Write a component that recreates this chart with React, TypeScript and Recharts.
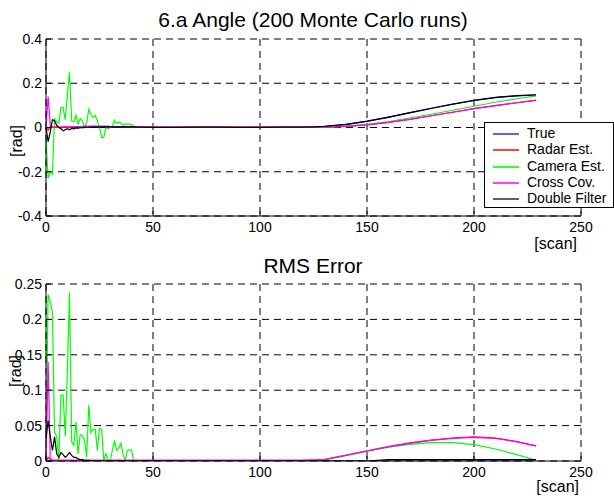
import React from 'react'
import { LineChart, Line, XAxis, YAxis, CartesianGrid } from 'recharts'

// scan index: dense at the start (noisy part), sparse afterwards
const scans = [
  0, 1, 2, 3, 4, 5, 6, 7, 8, 9, 10, 11, 12, 13, 14, 15, 16, 17, 18, 19, 20, 21,
  22, 23, 24, 25, 26, 27, 28, 29, 30, 31, 32, 33, 34, 35, 36, 37, 38, 39, 40, 41,
  42, 45, 50, 60, 70, 80, 90, 100, 110, 120, 125, 130, 140, 150, 160, 170, 180,
  190, 200, 210, 220, 229,
]

// 6.a Angle [rad]
const angleTrue = [
  0, 0, 0, 0, 0, 0, 0, 0, 0, 0, 0, 0, 0, 0, 0, 0, 0, 0, 0, 0, 0, 0, 0, 0, 0, 0,
  0, 0, 0, 0, 0, 0, 0, 0, 0, 0, 0, 0, 0, 0, 0, 0, 0,
  0, 0, 0, 0, 0, 0, 0, 0, 0.001, 0.002, 0.004, 0.013, 0.028, 0.046, 0.066, 0.086,
  0.105, 0.122, 0.135, 0.143, 0.147,
]
const angleRadar = [
  0, -0.012, 0.005, 0.003, 0.002, 0.002, 0.001, 0.001, 0.002, 0.002, 0.001, 0.002,
  0.002, 0.003, 0.003, 0.003, 0.004, 0.004, 0.004, 0.005, 0.005, 0.005, 0.005,
  0.005, 0.005, 0.005, 0.005, 0.005, 0.005, 0.005, 0.004, 0.004, 0.004, 0.004,
  0.004, 0.004, 0.004, 0.003, 0.003, 0.003, 0.003, 0.003, 0.003,
  0.002, 0.001, 0, 0, 0, 0, 0, 0, 0, 0, 0.001, 0.005, 0.012, 0.023, 0.037, 0.053,
  0.069, 0.085, 0.099, 0.112, 0.123,
]
const angleCamera = [
  -0.06, -0.23, -0.2, -0.21, 0.04, 0.025, 0.02, 0.09, 0.09, 0.035, 0.15, 0.25,
  0.03, 0.025, 0.055, 0.015, 0.04, 0.03, 0, 0.02, 0.082, 0.06, 0.045, 0.055, 0.03,
  0, -0.045, -0.045, 0, -0.005, 0, 0.005, 0.033, 0.018, 0.025, 0.02, 0.01, 0.015,
  0.015, 0.015, 0.013, 0.005, 0,
  0.002, 0.002, 0.001, 0.002, 0.002, 0.001, 0.002, 0.002, 0.001, 0.001, 0.002,
  0.006, 0.014, 0.027, 0.043, 0.06, 0.078, 0.096, 0.114, 0.13, 0.143,
]
const angleCross = [
  0, 0.14, 0.01, 0, 0.002, 0.002, 0.002, 0.002, 0.003, 0.003, 0.003, 0.003, 0.003,
  0.004, 0.004, 0.004, 0.004, 0.005, 0.005, 0.005, 0.005, 0.005, 0.005, 0.005,
  0.005, 0.005, 0.005, 0.005, 0.005, 0.005, 0.004, 0.004, 0.004, 0.004, 0.004,
  0.004, 0.004, 0.004, 0.003, 0.003, 0.003, 0.003, 0.003,
  0.003, 0.003, 0.003, 0.003, 0.003, 0.003, 0.003, 0.003, 0.003, 0.002, 0.002,
  0.005, 0.012, 0.023, 0.037, 0.053, 0.069, 0.085, 0.099, 0.112, 0.124,
]
const angleDouble = [
  0, -0.064, -0.02, 0.035, 0.03, 0.01, 0, -0.005, -0.015, -0.01, -0.005, -0.01,
  -0.004, -0.006, -0.002, -0.004, 0, -0.002, 0.002, 0, 0.001, 0.002, 0.002, 0.003,
  0.002, 0.003, 0.003, 0.003, 0.003, 0.003, 0.003, 0.003, 0.003, 0.003, 0.003,
  0.003, 0.003, 0.003, 0.003, 0.003, 0.003, 0.003, 0.002,
  0.002, 0.001, 0.001, 0.002, 0.002, 0.001, 0.001, 0.002, 0.002, 0.003, 0.005,
  0.014, 0.029, 0.047, 0.067, 0.087, 0.106, 0.123, 0.136, 0.144, 0.148,
]

// RMS Error [rad]
const rmsTrue = [
  0, 0, 0, 0, 0, 0, 0, 0, 0, 0, 0, 0, 0, 0, 0, 0, 0, 0, 0, 0, 0, 0, 0, 0, 0, 0,
  0, 0, 0, 0, 0, 0, 0, 0, 0, 0, 0, 0, 0, 0, 0, 0, 0,
  0, 0, 0, 0, 0, 0, 0, 0, 0, 0, 0, 0, 0, 0, 0, 0, 0, 0, 0, 0, 0,
]
const rmsRadar = [
  0, 0.005, 0.003, 0.001, 0.001, 0.001, 0.001, 0.001, 0.001, 0.001, 0.001, 0.001,
  0.001, 0.001, 0.001, 0.001, 0.001, 0.001, 0.001, 0.001, 0.001, 0.001, 0.001,
  0.001, 0.001, 0.001, 0.001, 0.001, 0.001, 0.001, 0.001, 0.001, 0.001, 0.001,
  0.001, 0.001, 0.001, 0.001, 0.001, 0.001, 0.001, 0.001, 0.001,
  0.001, 0.001, 0.001, 0.001, 0.001, 0.001, 0.001, 0.001, 0.001, 0.001, 0.002,
  0.008, 0.0145, 0.0205, 0.0255, 0.0295, 0.0325, 0.034, 0.0325, 0.0275, 0.0215,
]
const rmsCamera = [
  0.02, 0.235, 0.225, 0.21, 0.04, 0.035, 0.002, 0.093, 0.093, 0.035, 0.13, 0.238,
  0.027, 0.022, 0.055, 0.01, 0.037, 0.036, 0.03, 0.005, 0.079, 0.04, 0.045, 0.045,
  0.015, 0.046, 0.045, 0, 0.01, 0.002, 0, 0.015, 0.029, 0.015, 0.018, 0.025, 0.01,
  0, 0.015, 0.016, 0.015, 0, 0,
  0, 0, 0, 0, 0, 0, 0, 0, 0, 0, 0.002, 0.008, 0.014, 0.0195, 0.0235, 0.026, 0.026,
  0.023, 0.017, 0.009, 0.001,
]
const rmsCross = [
  0, 0.14, 0.002, 0.001, 0.001, 0.001, 0.001, 0.001, 0.001, 0.001, 0.001, 0.001,
  0.001, 0.001, 0.001, 0.001, 0.001, 0.001, 0.001, 0.001, 0.001, 0.001, 0.001,
  0.001, 0.001, 0.001, 0.001, 0.001, 0.001, 0.001, 0.001, 0.001, 0.001, 0.001,
  0.001, 0.001, 0.001, 0.001, 0.001, 0.001, 0.001, 0.001, 0.001,
  0.001, 0.001, 0.001, 0.001, 0.001, 0.001, 0.001, 0.001, 0.001, 0.0015, 0.002,
  0.008, 0.014, 0.02, 0.025, 0.029, 0.032, 0.0335, 0.032, 0.027, 0.021,
]
const rmsDouble = [
  0.032, 0.057, 0.035, 0.015, 0.034, 0.01, 0.005, 0.012, 0.009, 0.005, 0.008,
  0.012, 0.008, 0.005, 0.005, 0.003, 0.002, 0.002, 0.001, 0.001, 0.001, 0, 0, 0,
  0, 0, 0, 0, 0, 0, 0, 0, 0, 0, 0, 0, 0, 0, 0, 0, 0, 0, 0,
  0, 0, 0, 0, 0, 0, 0, 0, 0, 0, 0, 0, 0, 0.002, 0.002, 0.002, 0.002, 0.002, 0.002,
  0.002, 0.002,
]

const scanTicks = [0, 50, 100, 150, 200, 250]
const angleTicks = [-0.4, -0.2, 0, 0.2, 0.4]
const rmsTicks = [0, 0.05, 0.1, 0.15, 0.2, 0.25]

const seriesNames = ['True', 'Radar Est.', 'Camera Est.', 'Cross Cov.', 'Double Filter']
const seriesColors = ['#0000ff', '#ff0000', '#00ff00', '#ff00ff', '#000000']
const legendColors = ['#6060ff', '#ff4040', '#30ff30', '#ff40ff', '#606060']
const seriesKeys = ['tru', 'radar', 'camera', 'cross', 'double']

const angleData = scans.map((s, i) => ({
  scan: s,
  tru: angleTrue[i],
  radar: angleRadar[i],
  camera: angleCamera[i],
  cross: angleCross[i],
  double: angleDouble[i],
}))

const rmsData = scans.map((s, i) => ({
  scan: s,
  tru: rmsTrue[i],
  radar: rmsRadar[i],
  camera: rmsCamera[i],
  cross: rmsCross[i],
  double: rmsDouble[i],
}))

const FONT = 'Arial, "Liberation Sans", sans-serif'
const tickStyle = { fontSize: 14, fill: '#000' }

function Panel({ data, yDomain, yTicks, marginTop, xHeight }: any) {
  return (
    <LineChart
      width={614}
      height={252}
      data={data}
      margin={{ top: marginTop, right: 33, bottom: 0, left: 0 }}
    >
      <CartesianGrid stroke="#000" strokeDasharray="7 5" strokeWidth={1} />
      <XAxis
        dataKey="scan"
        type="number"
        domain={[0, 250]}
        ticks={scanTicks}
        height={xHeight}
        tick={tickStyle}
        tickSize={-5}
        tickMargin={11}
        stroke="#000"
        tickLine={{ stroke: '#000' }}
      />
      <YAxis
        type="number"
        domain={yDomain}
        ticks={yTicks}
        width={46}
        tick={tickStyle}
        tickSize={-5}
        tickMargin={9}
        stroke="#000"
        tickLine={{ stroke: '#000' }}
        allowDataOverflow
      />
      {seriesKeys.map((k, i) => (
        <Line
          key={k}
          dataKey={k}
          type="linear"
          stroke={seriesColors[i]}
          strokeWidth={1.2}
          dot={false}
          isAnimationActive={false}
        />
      ))}
    </LineChart>
  )
}

const abs = (style: React.CSSProperties): React.CSSProperties => ({
  position: 'absolute',
  whiteSpace: 'nowrap',
  ...style,
})

export default function App() {
  return (
    <div
      style={{
        position: 'absolute',
        left: 0,
        top: 0,
        width: 614,
        height: 504,
        background: '#fff',
        fontFamily: FONT,
        color: '#000',
        overflow: 'hidden',
      }}
    >
      {/* top: angle */}
      <div style={abs({ left: 0, top: 0 })}>
        <Panel data={angleData} yDomain={[-0.4, 0.4]} yTicks={angleTicks} marginTop={39} xHeight={36} />
      </div>
      {/* bottom: rms error */}
      <div style={abs({ left: 0, top: 252 })}>
        <Panel data={rmsData} yDomain={[0, 0.25]} yTicks={rmsTicks} marginTop={32} xHeight={43} />
      </div>

      {/* titles and axis labels */}
      <div style={abs({ left: 113, width: 400, top: 9, textAlign: 'center', fontSize: 21, lineHeight: '21px' })}>
        6.a Angle (200 Monte Carlo runs)
      </div>
      <div style={abs({ left: 113, width: 400, top: 255, textAlign: 'center', fontSize: 21, lineHeight: '21px' })}>
        RMS Error
      </div>
      <div style={abs({ right: 37, top: 236, fontSize: 16, lineHeight: '16px' })}>[scan]</div>
      <div style={abs({ right: 35, top: 479, fontSize: 16, lineHeight: '16px' })}>[scan]</div>
      <div
        style={abs({
          left: 17,
          top: 141,
          fontSize: 16,
          lineHeight: '16px',
          transform: 'translate(-50%, -50%) rotate(-90deg)',
        })}
      >
        [rad]
      </div>
      <div
        style={abs({
          left: 16,
          top: 371,
          fontSize: 16,
          lineHeight: '16px',
          transform: 'translate(-50%, -50%) rotate(-90deg)',
        })}
      >
        [rad]
      </div>

      {/* legend */}
      <div
        style={abs({
          left: 484,
          top: 122,
          width: 128,
          height: 84,
          border: '1px solid #000',
          background: '#fff',
        })}
      >
        {seriesNames.map((name, i) => (
          <div key={name} style={abs({ left: 0, top: 2 + Math.round(i * 16.3), height: 16, width: 128 })}>
            <span
              style={abs({
                left: 8,
                top: 8,
                width: 26,
                height: 2,
                background: legendColors[i],
              })}
            />
            <span style={abs({ left: 42, top: 0, fontSize: 14, lineHeight: '16px' })}>{name}</span>
          </div>
        ))}
      </div>
    </div>
  )
}
